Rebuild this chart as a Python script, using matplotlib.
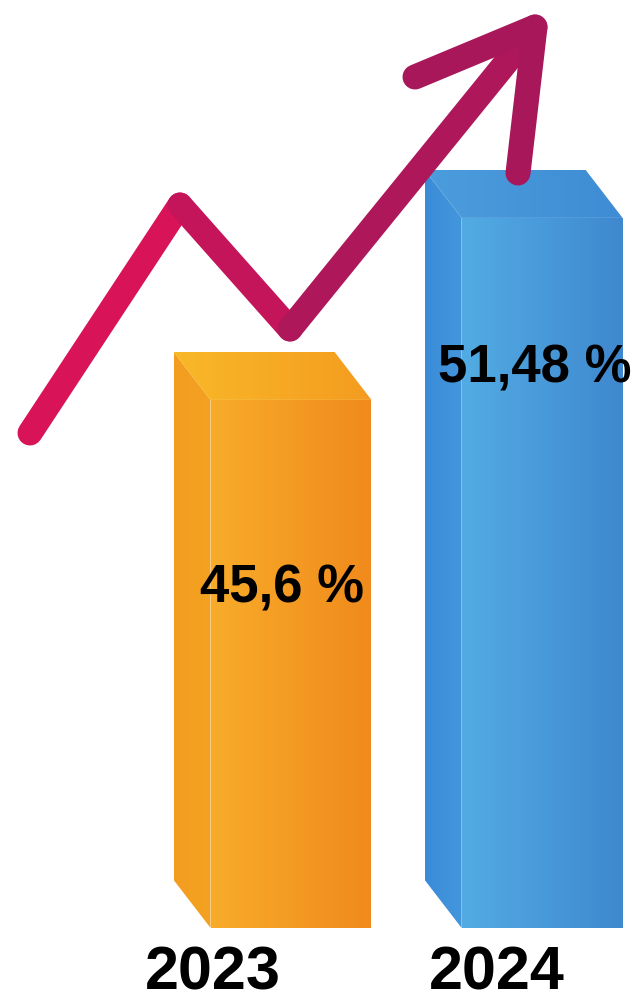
import matplotlib
matplotlib.use("Agg")
import matplotlib.pyplot as plt
import numpy as np
from matplotlib.colors import LinearSegmentedColormap
from matplotlib.patches import Polygon

# data
years = ["2023", "2024"]
values = [45.6, 51.48]
value_labels = ["45,6 %", "51,48 %"]

# trend arrow drawn over the bars (figure pixel coords, y down)
trend_x = [30, 180, 290, 535]
trend_y = [433, 205, 329, 27]
head_x = [415, 535, 518]
head_y = [77, 27, 173]

# styling
BASE = 28.54          # value at the bottom of the bar fronts
BAR_W = 0.641
DEPTH_X = -0.147
DEPTH_Y = 1.55
FRONT = [("#F8AC2A", "#F08A1C"), ("#52ACE3", "#3F88CF")]
SIDE = [("#F39D20", "#F4A222"), ("#3A8CD8", "#4496DC")]
TOP = [("#F9B828", "#F49C20"), ("#4C9DDD", "#3E8CD4")]
SEG_COLORS = ["#D81358", "#C4155A", "#AE175A"]
HEAD_COLOR = "#A8175A"


def shaded(ax, pts, c0, c1):
    pts = np.asarray(pts)
    patch = Polygon(pts, closed=True, facecolor="none", edgecolor="none")
    ax.add_patch(patch)
    cmap = LinearSegmentedColormap.from_list("g", [c0, c1])
    grad = np.linspace(0, 1, 256).reshape(1, -1)
    im = ax.imshow(grad, cmap=cmap, aspect="auto", interpolation="bilinear",
                   extent=(pts[:, 0].min(), pts[:, 0].max(),
                           pts[:, 1].min(), pts[:, 1].max()))
    im.set_clip_path(patch)


def draw_box(ax, xc, value, i):
    x0, x1 = xc - BAR_W / 2, xc + BAR_W / 2
    front = [(x0, BASE), (x1, BASE), (x1, value), (x0, value)]
    side = [(x0 + DEPTH_X, BASE + DEPTH_Y), (x0, BASE), (x0, value),
            (x0 + DEPTH_X, value + DEPTH_Y)]
    top = [(x0 + DEPTH_X, value + DEPTH_Y), (x1 + DEPTH_X, value + DEPTH_Y),
           (x1, value), (x0, value)]
    shaded(ax, side, *SIDE[i])
    shaded(ax, top, *TOP[i])
    shaded(ax, front, *FRONT[i])


fig = plt.figure(figsize=(6.37, 10.01), dpi=100)
ax = fig.add_axes([0, 0, 1, 1])

xs = np.arange(len(values))
for i, (x, v) in enumerate(zip(xs, values)):
    draw_box(ax, x, v, i)

font = dict(family=["Liberation Sans", "DejaVu Sans"], fontweight="bold", color="black")
label_x = [-0.034, 0.972]
label_y = [39.04, 46.15]
for lx, ly, txt in zip(label_x, label_y, value_labels):
    ax.text(lx, ly, txt, ha="center", va="baseline", fontsize=38, **font)

year_x = [-0.311, 0.821]
for yx, yr in zip(year_x, years):
    ax.text(yx, 26.55, yr, ha="center", va="baseline", fontsize=44, **font)

ax.set_xlim(-1.159, 1.378)
ax.set_ylim(26.18, 58.52)
ax.axis("off")

# overlay for the trend arrow, one colour step per segment
ov = fig.add_axes([0, 0, 1, 1])
for j, c in enumerate(SEG_COLORS):
    ov.plot(trend_x[j:j + 2], trend_y[j:j + 2], color=c, lw=18,
            solid_capstyle="round", solid_joinstyle="round")
ov.plot(head_x, head_y, color=HEAD_COLOR, lw=18, solid_capstyle="round",
        solid_joinstyle="round")
ov.set_xlim(0, 637)
ov.set_ylim(1001, 0)
ov.axis("off")

fig.savefig("out.png", dpi=100, facecolor="white")
